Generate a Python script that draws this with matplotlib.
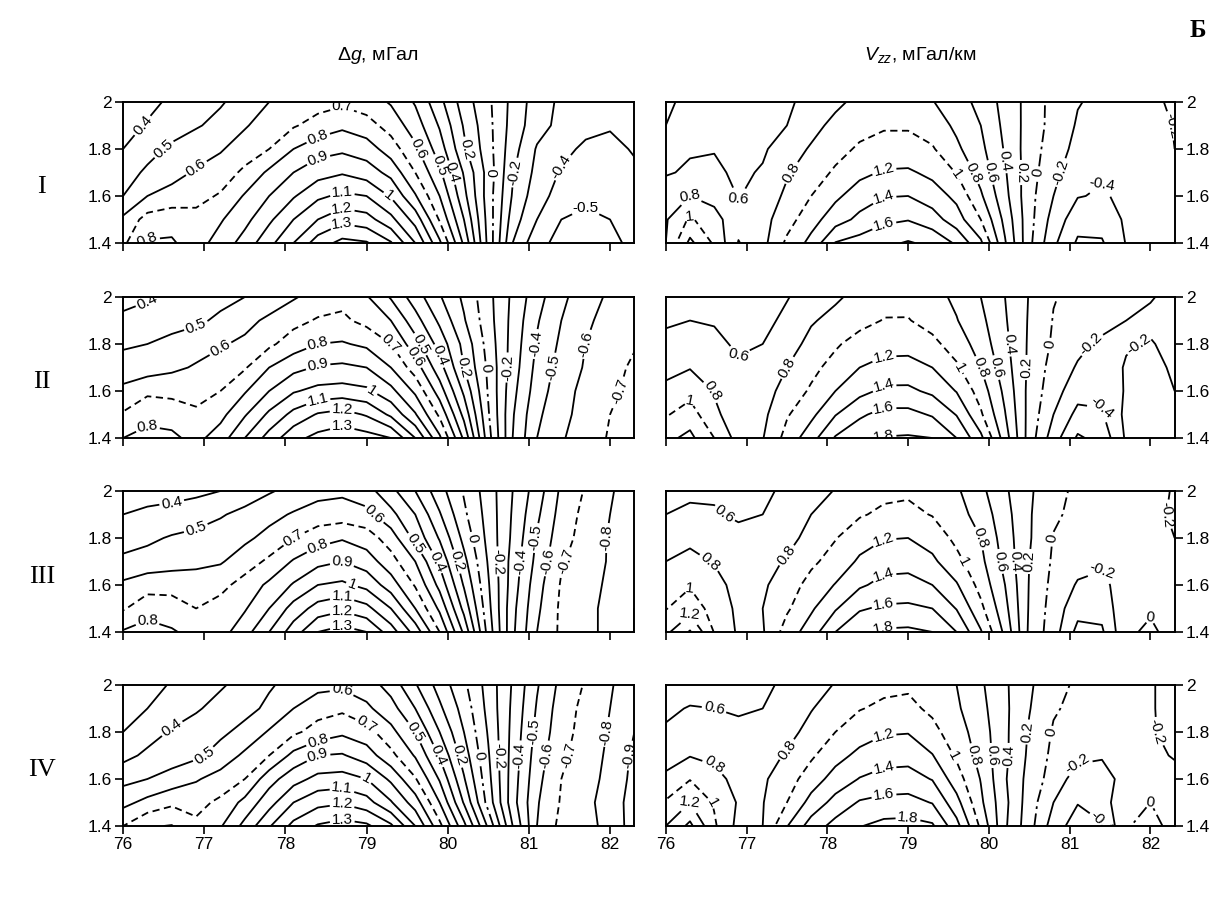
import matplotlib
matplotlib.use("Agg")
import matplotlib.pyplot as plt
from matplotlib import font_manager
from matplotlib.ticker import FormatStrFormatter

# grid nodes: x along profile, y = height level
x_nodes = [76.0, 76.3, 76.6, 76.9, 77.2, 77.5, 77.8, 78.1, 78.4, 78.7, 79.0,
           79.3, 79.6, 79.9, 80.2, 80.5, 80.8, 81.1, 81.4, 81.7, 82.0, 82.3]
y_nodes = [1.4, 1.5, 1.6, 1.7, 1.8, 1.9, 2.0]

# delta g, mGal (rows from y=1.4 up to y=2.0)
dg_1 = [
    [0.68, 0.81, 0.81, 0.76, 0.84, 0.94, 1.07, 1.20, 1.35, 1.43, 1.41, 1.31, 1.10, 0.82, 0.48, 0.07, -0.30, -0.47, -0.53, -0.55, -0.53, -0.47],
    [0.62, 0.74, 0.77, 0.73, 0.79, 0.87, 0.98, 1.10, 1.20, 1.27, 1.24, 1.13, 0.96, 0.69, 0.40, 0.06, -0.25, -0.40, -0.50, -0.52, -0.50, -0.46],
    [0.50, 0.60, 0.63, 0.67, 0.71, 0.81, 0.90, 0.99, 1.08, 1.12, 1.10, 0.99, 0.81, 0.60, 0.33, 0.05, -0.21, -0.36, -0.44, -0.48, -0.48, -0.44],
    [0.45, 0.52, 0.57, 0.61, 0.65, 0.72, 0.82, 0.90, 0.96, 0.99, 0.95, 0.87, 0.70, 0.52, 0.29, 0.06, -0.19, -0.33, -0.41, -0.45, -0.46, -0.42],
    [0.40, 0.46, 0.52, 0.56, 0.59, 0.65, 0.70, 0.80, 0.86, 0.88, 0.85, 0.75, 0.62, 0.45, 0.22, 0.04, -0.16, -0.31, -0.37, -0.42, -0.43, -0.39],
    [0.36, 0.41, 0.45, 0.49, 0.53, 0.59, 0.65, 0.69, 0.74, 0.78, 0.74, 0.66, 0.55, 0.39, 0.19, 0.03, -0.14, -0.26, -0.33, -0.37, -0.39, -0.38],
    [0.33, 0.37, 0.42, 0.45, 0.49, 0.54, 0.60, 0.63, 0.66, 0.68, 0.65, 0.59, 0.49, 0.33, 0.15, 0.02, -0.13, -0.25, -0.32, -0.35, -0.37, -0.36],
]
dg_2 = [
    [0.80, 0.83, 0.82, 0.77, 0.85, 1.00, 1.14, 1.27, 1.33, 1.36, 1.34, 1.30, 1.10, 0.82, 0.48, 0.04, -0.30, -0.50, -0.59, -0.65, -0.71, -0.76],
    [0.71, 0.77, 0.76, 0.72, 0.77, 0.89, 1.02, 1.13, 1.21, 1.24, 1.19, 1.08, 0.91, 0.68, 0.37, 0.01, -0.29, -0.48, -0.57, -0.64, -0.70, -0.74],
    [0.63, 0.68, 0.67, 0.66, 0.70, 0.79, 0.90, 0.99, 1.03, 1.04, 1.02, 0.93, 0.78, 0.55, 0.28, -0.01, -0.27, -0.45, -0.56, -0.63, -0.68, -0.73],
    [0.53, 0.55, 0.58, 0.61, 0.64, 0.69, 0.80, 0.87, 0.91, 0.92, 0.90, 0.80, 0.65, 0.44, 0.20, -0.02, -0.25, -0.43, -0.54, -0.61, -0.66, -0.72],
    [0.49, 0.50, 0.53, 0.56, 0.59, 0.62, 0.68, 0.75, 0.80, 0.81, 0.78, 0.70, 0.54, 0.36, 0.17, -0.04, -0.24, -0.41, -0.52, -0.60, -0.65, -0.69],
    [0.42, 0.44, 0.46, 0.48, 0.52, 0.57, 0.62, 0.67, 0.71, 0.72, 0.67, 0.60, 0.44, 0.28, 0.11, -0.06, -0.23, -0.39, -0.50, -0.58, -0.64, -0.68],
    [0.37, 0.39, 0.42, 0.45, 0.47, 0.50, 0.54, 0.59, 0.64, 0.67, 0.61, 0.49, 0.35, 0.21, 0.08, -0.07, -0.22, -0.36, -0.48, -0.55, -0.62, -0.66],
]
dg_3 = [
    [0.81, 0.84, 0.81, 0.77, 0.76, 0.86, 1.00, 1.15, 1.30, 1.34, 1.30, 1.15, 0.96, 0.70, 0.38, -0.04, -0.38, -0.60, -0.72, -0.77, -0.83, -0.90],
    [0.69, 0.76, 0.75, 0.70, 0.74, 0.79, 0.90, 1.04, 1.14, 1.18, 1.13, 1.00, 0.80, 0.58, 0.27, -0.07, -0.37, -0.58, -0.72, -0.77, -0.83, -0.90],
    [0.62, 0.66, 0.66, 0.64, 0.67, 0.74, 0.82, 0.91, 1.00, 1.02, 0.97, 0.85, 0.69, 0.47, 0.19, -0.09, -0.35, -0.56, -0.71, -0.76, -0.82, -0.88],
    [0.52, 0.54, 0.56, 0.58, 0.59, 0.65, 0.72, 0.81, 0.87, 0.90, 0.85, 0.74, 0.60, 0.38, 0.13, -0.11, -0.34, -0.53, -0.69, -0.75, -0.81, -0.88],
    [0.46, 0.48, 0.51, 0.53, 0.55, 0.58, 0.63, 0.70, 0.76, 0.79, 0.75, 0.65, 0.47, 0.29, 0.07, -0.13, -0.32, -0.51, -0.66, -0.74, -0.81, -0.87],
    [0.40, 0.42, 0.43, 0.45, 0.49, 0.53, 0.57, 0.61, 0.64, 0.65, 0.63, 0.53, 0.40, 0.21, 0.02, -0.14, -0.31, -0.48, -0.64, -0.73, -0.80, -0.86],
    [0.35, 0.36, 0.37, 0.38, 0.40, 0.44, 0.49, 0.53, 0.57, 0.58, 0.54, 0.43, 0.30, 0.14, -0.01, -0.15, -0.30, -0.45, -0.62, -0.71, -0.79, -0.85],
]
dg_4 = [
    [0.70, 0.79, 0.805, 0.72, 0.79, 0.93, 1.09, 1.23, 1.31, 1.34, 1.32, 1.22, 1.00, 0.73, 0.43, 0.08, -0.30, -0.60, -0.73, -0.77, -0.83, -0.95],
    [0.57, 0.63, 0.68, 0.67, 0.72, 0.83, 0.96, 1.10, 1.17, 1.19, 1.14, 1.01, 0.85, 0.60, 0.29, -0.04, -0.36, -0.59, -0.71, -0.77, -0.85, -0.94],
    [0.47, 0.50, 0.54, 0.59, 0.64, 0.70, 0.86, 0.96, 1.03, 1.04, 1.00, 0.88, 0.71, 0.49, 0.21, -0.07, -0.35, -0.57, -0.70, -0.76, -0.83, -0.93],
    [0.37, 0.42, 0.45, 0.48, 0.54, 0.62, 0.70, 0.83, 0.90, 0.91, 0.85, 0.73, 0.59, 0.39, 0.15, -0.09, -0.34, -0.55, -0.68, -0.75, -0.82, -0.92],
    [0.30, 0.36, 0.41, 0.44, 0.48, 0.53, 0.61, 0.68, 0.74, 0.78, 0.74, 0.63, 0.50, 0.30, 0.10, -0.11, -0.33, -0.53, -0.66, -0.74, -0.81, -0.90],
    [0.24, 0.30, 0.35, 0.39, 0.43, 0.47, 0.52, 0.60, 0.66, 0.68, 0.62, 0.54, 0.40, 0.22, 0.06, -0.13, -0.32, -0.51, -0.65, -0.73, -0.80, -0.88],
    [0.20, 0.26, 0.31, 0.35, 0.39, 0.43, 0.49, 0.53, 0.57, 0.58, 0.55, 0.46, 0.31, 0.16, 0.02, -0.14, -0.31, -0.49, -0.63, -0.71, -0.79, -0.86],
]

# Vzz, mGal/km (rows from y=1.4 up to y=2.0)
vzz_1 = [
    [0.80, 1.25, 0.97, 0.59, 0.74, 1.04, 1.26, 1.61, 1.68, 1.75, 1.82, 1.75, 1.57, 1.24, 0.62, 0.05, -0.36, -0.63, -0.62, -0.39, -0.35, -0.32],
    [0.78, 1.03, 0.87, 0.67, 0.73, 0.92, 1.12, 1.31, 1.45, 1.56, 1.59, 1.49, 1.29, 1.00, 0.54, 0.07, -0.28, -0.52, -0.52, -0.37, -0.33, -0.28],
    [0.72, 0.80, 0.74, 0.59, 0.68, 0.84, 1.00, 1.16, 1.30, 1.39, 1.40, 1.30, 1.15, 0.83, 0.46, 0.07, -0.20, -0.39, -0.42, -0.36, -0.32, -0.25],
    [0.58, 0.63, 0.64, 0.56, 0.62, 0.78, 0.90, 1.03, 1.15, 1.22, 1.23, 1.15, 0.99, 0.72, 0.42, 0.09, -0.15, -0.32, -0.38, -0.36, -0.31, -0.23],
    [0.50, 0.58, 0.59, 0.54, 0.57, 0.71, 0.82, 0.93, 1.03, 1.07, 1.07, 1.02, 0.84, 0.65, 0.38, 0.10, -0.10, -0.26, -0.33, -0.35, -0.30, -0.20],
    [0.40, 0.46, 0.50, 0.50, 0.53, 0.60, 0.74, 0.85, 0.93, 0.98, 0.98, 0.91, 0.76, 0.60, 0.35, 0.12, -0.07, -0.22, -0.29, -0.32, -0.28, -0.19],
    [0.38, 0.43, 0.47, 0.48, 0.50, 0.57, 0.66, 0.76, 0.85, 0.91, 0.92, 0.81, 0.69, 0.54, 0.33, 0.13, -0.07, -0.19, -0.24, -0.28, -0.25, -0.16],
]
vzz_2 = [
    [1.15, 1.25, 1.00, 0.72, 0.79, 1.07, 1.32, 1.62, 1.73, 1.81, 1.82, 1.80, 1.60, 1.25, 0.70, 0.11, -0.31, -0.63, -0.53, -0.17, -0.08, -0.10],
    [0.98, 1.10, 0.83, 0.72, 0.75, 0.98, 1.15, 1.39, 1.57, 1.66, 1.66, 1.58, 1.39, 1.03, 0.61, 0.13, -0.20, -0.46, -0.42, -0.15, -0.10, -0.14],
    [0.84, 0.93, 0.79, 0.70, 0.72, 0.87, 1.03, 1.20, 1.34, 1.44, 1.44, 1.36, 1.19, 0.91, 0.55, 0.14, -0.12, -0.32, -0.35, -0.18, -0.13, -0.20],
    [0.75, 0.79, 0.74, 0.64, 0.66, 0.80, 0.94, 1.08, 1.20, 1.27, 1.28, 1.20, 1.03, 0.80, 0.49, 0.16, -0.08, -0.22, -0.26, -0.19, -0.16, -0.22],
    [0.66, 0.70, 0.66, 0.56, 0.60, 0.71, 0.86, 0.97, 1.09, 1.12, 1.12, 1.05, 0.91, 0.71, 0.45, 0.17, -0.03, -0.15, -0.24, -0.21, -0.19, -0.24],
    [0.57, 0.60, 0.58, 0.53, 0.55, 0.64, 0.78, 0.86, 0.93, 1.01, 1.01, 0.93, 0.81, 0.65, 0.42, 0.18, -0.01, -0.07, -0.13, -0.20, -0.23, -0.25],
    [0.52, 0.50, 0.48, 0.47, 0.50, 0.59, 0.68, 0.77, 0.86, 0.93, 0.94, 0.87, 0.76, 0.60, 0.40, 0.19, 0.01, -0.05, -0.09, -0.14, -0.19, -0.24],
]
vzz_3 = [
    [1.15, 1.42, 0.99, 0.77, 0.78, 1.09, 1.30, 1.60, 1.75, 1.83, 1.84, 1.80, 1.60, 1.22, 0.75, 0.16, -0.11, -0.46, -0.43, -0.03, 0.03, -0.06],
    [0.99, 1.12, 0.92, 0.76, 0.80, 0.97, 1.17, 1.38, 1.58, 1.63, 1.64, 1.60, 1.39, 1.05, 0.66, 0.18, -0.09, -0.33, -0.33, -0.05, -0.02, -0.10],
    [0.92, 0.98, 0.86, 0.74, 0.77, 0.90, 1.07, 1.21, 1.37, 1.46, 1.47, 1.40, 1.22, 0.93, 0.60, 0.19, -0.06, -0.22, -0.23, -0.14, -0.08, -0.12],
    [0.80, 0.85, 0.79, 0.70, 0.73, 0.82, 0.96, 1.08, 1.23, 1.32, 1.33, 1.24, 1.06, 0.85, 0.54, 0.20, -0.03, -0.13, -0.18, -0.15, -0.13, -0.16],
    [0.70, 0.76, 0.74, 0.66, 0.68, 0.74, 0.86, 0.99, 1.12, 1.19, 1.20, 1.12, 0.95, 0.80, 0.50, 0.22, -0.01, -0.08, -0.13, -0.15, -0.17, -0.20],
    [0.60, 0.63, 0.62, 0.57, 0.60, 0.67, 0.80, 0.89, 0.98, 1.04, 1.05, 0.99, 0.88, 0.72, 0.47, 0.22, 0.03, -0.05, -0.10, -0.13, -0.16, -0.22],
    [0.55, 0.57, 0.57, 0.55, 0.57, 0.63, 0.72, 0.81, 0.88, 0.95, 0.97, 0.93, 0.83, 0.65, 0.43, 0.23, 0.06, -0.04, -0.08, -0.12, -0.16, -0.21],
]
vzz_4 = [
    [1.20, 1.45, 1.03, 0.74, 0.80, 1.19, 1.49, 1.67, 1.79, 1.86, 1.87, 1.83, 1.47, 0.96, 0.43, 0.08, -0.30, -0.50, -0.42, -0.01, 0.04, -0.04],
    [1.02, 1.20, 0.98, 0.78, 0.79, 1.00, 1.27, 1.47, 1.62, 1.66, 1.67, 1.59, 1.27, 0.84, 0.45, 0.10, -0.20, -0.39, -0.30, -0.03, 0.00, -0.10],
    [0.85, 0.99, 0.86, 0.74, 0.77, 0.91, 1.10, 1.28, 1.41, 1.47, 1.48, 1.39, 1.09, 0.79, 0.42, 0.13, -0.09, -0.29, -0.29, -0.12, -0.10, -0.16],
    [0.70, 0.79, 0.76, 0.70, 0.72, 0.82, 0.97, 1.13, 1.25, 1.32, 1.33, 1.21, 0.97, 0.73, 0.44, 0.16, -0.05, -0.15, -0.18, -0.15, -0.17, -0.21],
    [0.62, 0.70, 0.69, 0.64, 0.66, 0.74, 0.86, 1.00, 1.11, 1.18, 1.19, 1.06, 0.89, 0.70, 0.44, 0.18, -0.02, -0.07, -0.12, -0.16, -0.19, -0.23],
    [0.57, 0.61, 0.60, 0.58, 0.60, 0.68, 0.79, 0.89, 0.99, 1.04, 1.05, 0.96, 0.83, 0.66, 0.44, 0.21, 0.02, -0.05, -0.11, -0.16, -0.19, -0.24],
    [0.50, 0.53, 0.55, 0.54, 0.56, 0.64, 0.73, 0.81, 0.88, 0.95, 0.97, 0.92, 0.80, 0.63, 0.43, 0.23, 0.06, -0.03, -0.09, -0.14, -0.19, -0.24],
]

dg_levels = [-0.9, -0.8, -0.7, -0.6, -0.5, -0.4, -0.3, -0.2, -0.1, 0.0, 0.1, 0.2,
             0.3, 0.4, 0.5, 0.6, 0.7, 0.8, 0.9, 1.0, 1.1, 1.2, 1.3, 1.4]
dg_labelled = [-0.9, -0.8, -0.7, -0.6, -0.5, -0.4, -0.2, 0.0, 0.2, 0.4, 0.5,
               0.6, 0.7, 0.8, 0.9, 1.0, 1.1, 1.2, 1.3]
dg_dashed = [-0.7, 0.7]
vzz_levels = [-0.6, -0.4, -0.2, 0.0, 0.2, 0.4, 0.6, 0.8, 1.0, 1.2, 1.4, 1.6, 1.8]
vzz_labelled = [-0.4, -0.2, 0.0, 0.2, 0.4, 0.6, 0.8, 1.0, 1.2, 1.4, 1.6, 1.8]
vzz_dashed = [1.0]

row_names = ["I", "II", "III", "IV"]
x_ticks = [76, 77, 78, 79, 80, 81, 82]
y_ticks = [1.4, 1.6, 1.8, 2.0]

names = {f.name for f in font_manager.fontManager.ttflist}
SANS = "Liberation Sans Narrow" if "Liberation Sans Narrow" in names else "Liberation Sans"
plt.rcParams["font.family"] = [SANS, "DejaVu Sans"]
plt.rcParams["mathtext.fontset"] = "custom"
plt.rcParams["mathtext.rm"] = SANS
plt.rcParams["mathtext.it"] = SANS + ":italic"


def near(v, lst):
    return any(abs(v - a) < 1e-6 for a in lst)


def fmt(v):
    return f"{round(v, 1) + 0:g}"


def draw(ax, z, levels, dashed, labelled):
    styles = []
    for lv in levels:
        if abs(lv) < 1e-6:
            styles.append((0, (7, 2.5, 1.5, 2.5)))
        elif near(lv, dashed):
            styles.append((0, (4, 2.5)))
        else:
            styles.append("solid")
    cs = ax.contour(x_nodes, y_nodes, z, levels=levels, colors="k",
                    linewidths=1.3, linestyles=styles)
    lab = [lv for lv in cs.levels if near(lv, labelled)]
    ax.clabel(cs, levels=lab, inline=True, inline_spacing=2,
              fontsize=11, fmt=fmt)


fig = plt.figure(figsize=(12.16, 9.05), dpi=100)
bottoms = [0.7315, 0.516, 0.3017, 0.0873]
height = 0.1558
lefts = [0.1012, 0.5475]
widths = [0.4205, 0.4185]

dg_all = [dg_1, dg_2, dg_3, dg_4]
vzz_all = [vzz_1, vzz_2, vzz_3, vzz_4]

for i in range(4):
    for j in range(2):
        ax = fig.add_axes([lefts[j], bottoms[i], widths[j], height])
        if j == 0:
            draw(ax, dg_all[i], dg_levels, dg_dashed, dg_labelled)
        else:
            draw(ax, vzz_all[i], vzz_levels, vzz_dashed, vzz_labelled)
        ax.set_xlim(76, 82.3)
        ax.set_ylim(1.4, 2.0)
        ax.set_xticks(x_ticks)
        ax.set_yticks(y_ticks)
        ax.yaxis.set_major_formatter(FormatStrFormatter("%g"))
        ax.tick_params(direction="out", length=6, width=1.2, labelsize=12.5,
                       top=False, pad=2)
        ax.tick_params(axis="x", labelbottom=(i == 3))
        if j == 1:
            ax.yaxis.tick_right()
            ax.tick_params(axis="y", left=False, right=True,
                           labelleft=False, labelright=True)
        for s in ax.spines.values():
            s.set_linewidth(1.4)

    fig.text(0.0345, [0.7934, 0.578, 0.3624, 0.149][i], row_names[i],
             family="Liberation Serif", fontsize=19, ha="center", va="center")

fig.text(0.311, 0.939, r"$\Delta g$, мГал", fontsize=14, ha="center", va="center")
fig.text(0.757, 0.939, r"$V_{zz}$, мГал/км", fontsize=14, ha="center", va="center")
fig.text(0.985, 0.966, "Б", family="Liberation Serif", fontweight="bold",
         fontsize=18, ha="center", va="center")

fig.savefig("out.png", dpi=100)
